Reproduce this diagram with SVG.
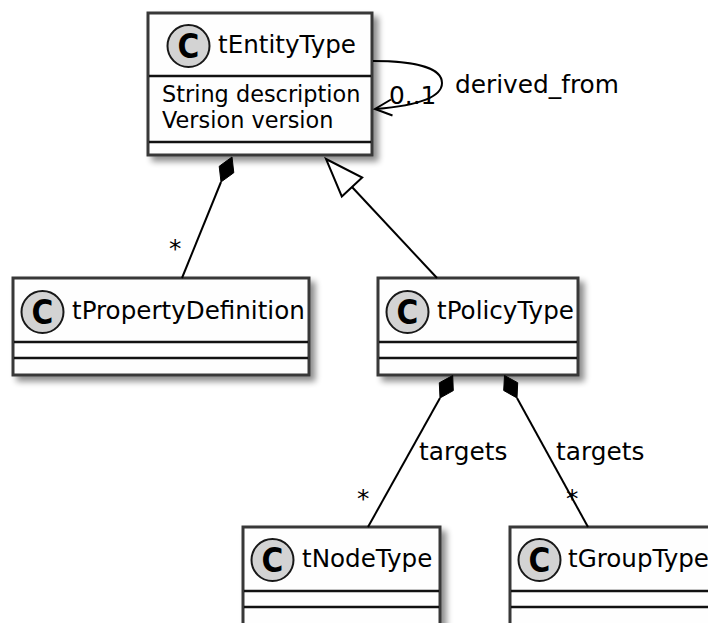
<svg xmlns="http://www.w3.org/2000/svg" width="708" height="623" viewBox="0 0 708 623">
<defs>
<filter id="sh" x="-10%" y="-10%" width="130%" height="130%">
<feGaussianBlur in="SourceAlpha" stdDeviation="3"/>
<feOffset dx="5" dy="5" result="b"/>
<feComponentTransfer><feFuncA type="linear" slope="0.45"/></feComponentTransfer>
<feMerge><feMergeNode/><feMergeNode in="SourceGraphic"/></feMerge>
</filter>
</defs>
<style>
.box{fill:#FEFEFE;stroke:#383838;stroke-width:3}
.sep{stroke:#111;stroke-width:2.5}
.ci{fill:#D3D3D3;stroke:#181818;stroke-width:2}
.cl{font-family:"DejaVu Sans Condensed","DejaVu Sans",sans-serif;font-weight:bold;font-size:33px;text-anchor:middle;fill:#000}
.nm{font-family:"DejaVu Sans",sans-serif;font-size:24.6px;fill:#000}
.at{font-family:"DejaVu Sans",sans-serif;font-size:22.4px;fill:#000}
.lb{font-family:"DejaVu Sans",sans-serif;font-size:24.8px;fill:#000}
.ln{fill:none;stroke:#000;stroke-width:2}
</style>
<rect width="708" height="623" fill="#FFFFFF"/>

<g id="tEntityType">
<rect class="box" x="148" y="13" width="224" height="142" filter="url(#sh)"/>
<line class="sep" x1="149" y1="76" x2="371" y2="76"/>
<line class="sep" x1="149" y1="142" x2="371" y2="142"/>
<circle class="ci" cx="188.5" cy="46" r="21"/>
<text class="cl" x="188.5" y="58">C</text>
<text class="nm" x="218" y="53">tEntityType</text>
<text class="at" x="162" y="102">String description</text>
<text class="at" x="162" y="128">Version version</text>
</g>

<g id="tPropertyDefinition">
<rect class="box" x="13" y="278" width="296" height="97" filter="url(#sh)"/>
<line class="sep" x1="14" y1="342" x2="308" y2="342"/>
<line class="sep" x1="14" y1="358" x2="308" y2="358"/>
<circle class="ci" cx="42.5" cy="312" r="21"/>
<text class="cl" x="42.5" y="324">C</text>
<text class="nm" x="72" y="319">tPropertyDefinition</text>
</g>

<g id="tPolicyType">
<rect class="box" x="378" y="278" width="200" height="97" filter="url(#sh)"/>
<line class="sep" x1="379" y1="342" x2="577" y2="342"/>
<line class="sep" x1="379" y1="358" x2="577" y2="358"/>
<circle class="ci" cx="407.5" cy="312" r="21"/>
<text class="cl" x="407.5" y="324">C</text>
<text class="nm" x="437" y="319">tPolicyType</text>
</g>

<g id="tNodeType">
<rect class="box" x="243" y="527" width="197" height="100" filter="url(#sh)"/>
<line class="sep" x1="244" y1="591" x2="439" y2="591"/>
<line class="sep" x1="244" y1="607" x2="439" y2="607"/>
<circle class="ci" cx="272.5" cy="560" r="21"/>
<text class="cl" x="272.5" y="572">C</text>
<text class="nm" x="302" y="567">tNodeType</text>
</g>

<g id="tGroupType">
<rect class="box" x="510" y="527" width="212" height="100" filter="url(#sh)"/>
<line class="sep" x1="511" y1="591" x2="721" y2="591"/>
<line class="sep" x1="511" y1="607" x2="721" y2="607"/>
<circle class="ci" cx="539.5" cy="560" r="21"/>
<text class="cl" x="539.5" y="572">C</text>
<text class="nm" x="568" y="567">tGroupType</text>
</g>

<g id="connectors">
<!-- self loop derived_from -->
<path class="ln" d="M373,61 C412,61 442,67 442,83 C442,99 412,106 376,109"/>
<polyline class="ln" points="391,99.5 375,109 392.5,115.5"/>
<text class="lb" x="389" y="104">0..1</text>
<text class="lb" x="455" y="93">derived_from</text>

<!-- composition tEntityType -> tPropertyDefinition -->
<line class="ln" x1="221" y1="182" x2="182" y2="278"/>
<polygon points="232,157 233.8,172.7 221,182 219.2,166.3" fill="#000" stroke="#000" stroke-width="1"/>
<text class="lb" x="169" y="257">*</text>

<!-- generalization tPolicyType -> tEntityType -->
<line class="ln" x1="352" y1="187" x2="437" y2="278"/>
<polygon points="326,159 362.2,177.5 341.8,196.5" fill="#FFFFFF" stroke="#000" stroke-width="2"/>

<!-- composition tPolicyType -> tNodeType -->
<line class="ln" x1="440" y1="398" x2="368" y2="527"/>
<polygon points="452.7,375.5 453.3,390.6 440,398 439.3,382.8" fill="#000" stroke="#000" stroke-width="1"/>
<text class="lb" x="419" y="460">targets</text>
<text class="lb" x="357" y="507">*</text>

<!-- composition tPolicyType -> tGroupType -->
<line class="ln" x1="517" y1="398" x2="588" y2="527"/>
<polygon points="504.5,375.5 517.7,382.7 517,398 503.7,390.5" fill="#000" stroke="#000" stroke-width="1"/>
<text class="lb" x="556" y="460">targets</text>
<text class="lb" x="566" y="507">*</text>
</g>
</svg>
